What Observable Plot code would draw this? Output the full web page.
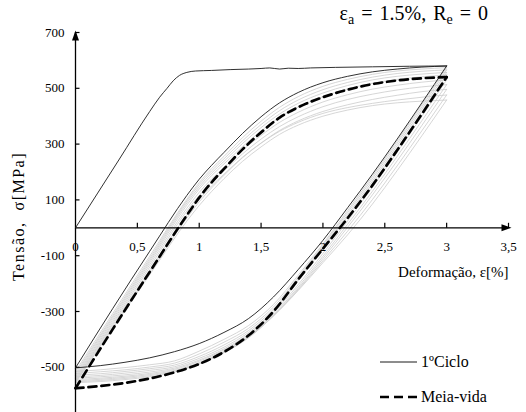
<!DOCTYPE html>
<html>
<head>
<meta charset="utf-8">
<script src="https://cdn.jsdelivr.net/npm/d3@7"></script>
<script src="https://cdn.jsdelivr.net/npm/@observablehq/plot@0.6"></script>
<style>
  body { margin: 0; background: #fff; }
  #wrap { position: relative; width: 526px; height: 412px; font-family: "Liberation Serif", "Times New Roman", serif; color: #000; }
  #title { position: absolute; right: 38px; top: 2px; font-size: 20px; word-spacing: 2px; white-space: nowrap; }
  #title sub { font-size: 0.7em; vertical-align: -0.3em; line-height: 0; word-spacing: 0; }
  .leg { position: absolute; left: 380px; height: 20px; display: flex; align-items: center; font-size: 16px; white-space: nowrap; }
  .leg svg { margin-right: 4px; }
</style>
</head>
<body>
<div id="wrap">
  <div id="chart"></div>
  <div id="title">ε<sub>a</sub> = 1.5%, R<sub>e</sub> = 0</div>
  <div class="leg" id="leg1"></div>
  <div class="leg" id="leg2"></div>
</div>
<script>
// ---------- data (strain in %, stress in MPa) ----------
const xTicks = [0, 0.5, 1, 1.5, 2, 2.5, 3, 3.5];
const xTickLabels = ["0", "0,5", "1", "1,5", "2", "2,5", "3", "3,5"];
const yTicks = [700, 500, 300, 100, -100, -300, -500];
const yTickLabels = ["700", "500", "300", "100", "-100", "-300", "-500"];
const yMin = -662, yMax = 700, xMin = 0, xMax = 3.5;

// first (monotonic) loading of cycle 1
const monoStrain = [0, 0.35, 0.6, 0.68, 0.74, 0.79, 0.84, 0.9, 0.97, 1.1, 1.25, 1.4, 1.5, 1.57, 1.65, 1.72, 1.8, 1.9, 2.1, 2.4, 2.7, 3.0];
const monoStress = [0, 243, 417, 468, 500, 527, 546, 557, 562, 564, 567, 569, 571, 573, 569, 572, 571, 573, 575, 577, 579, 580];

// strain grids of the reloading (upper) and unloading (lower) branches
const upperStrain = [0, 0.3, 0.6, 0.9, 1.0, 1.1, 1.2, 1.35, 1.5, 1.65, 1.8, 2.0, 2.2, 2.4, 2.6, 2.8, 3.0];
const lowerStrain = [0, 0.2, 0.4, 0.6, 0.8, 1.0, 1.2, 1.4, 1.6, 1.8, 2.0, 2.2, 2.4, 2.6, 2.8, 3.0];

// 1st cycle
const cycle1Upper = [-502, -290, -84, 116, 174, 224, 270, 338, 398, 448, 485, 520, 543, 559, 569, 576, 580];
const cycle1Lower = [-502, -494, -482, -466, -444, -415, -375, -325, -248, -150, -45, 72, 192, 318, 448, 580];

// half-life cycle
const halfUpper = [-575, -364, -158, 45, 108, 163, 211, 281, 342, 395, 432, 468, 495, 515, 528, 536, 540];
const halfLower = [-575, -567, -556, -540, -518, -488, -445, -385, -300, -185, -75, 35, 152, 278, 408, 540];

// intermediate cycles (grey)
const greyUpper = [
  [-515, -308, -102, 102, 162, 212, 256, 323, 382, 432, 470, 507, 532, 550, 562, 569, 574],
  [-522, -316, -110, 96, 155, 204, 247, 312, 370, 420, 458, 495, 521, 540, 553, 561, 566],
  [-528, -322, -117, 89, 147, 196, 238, 302, 359, 408, 446, 483, 510, 530, 543, 551, 557],
  [-534, -329, -124, 81, 139, 187, 229, 291, 347, 396, 433, 470, 498, 518, 532, 541, 548],
  [-539, -336, -132, 70, 127, 175, 216, 278, 331, 378, 414, 451, 477, 497, 511, 522, 530],
  [-544, -343, -141, 60, 116, 163, 204, 265, 318, 363, 398, 434, 460, 479, 494, 505, 513],
  [-548, -349, -151, 46, 102, 150, 192, 253, 304, 349, 383, 417, 441, 460, 475, 488, 496],
  [-552, -356, -160, 35, 93, 143, 188, 251, 303, 346, 378, 410, 431, 446, 458, 468, 476],
  [-555, -361, -168, 24, 80, 130, 176, 238, 290, 335, 368, 400, 422, 438, 448, 454, 458]
];
const greyLower = [
  [-515, -509, -501, -491, -477, -442, -400, -350, -275, -170, -58, 62, 184, 311, 442, 574],
  [-522, -516, -509, -499, -485, -452, -410, -360, -284, -177, -63, 55, 176, 303, 434, 566],
  [-528, -523, -515, -505, -492, -461, -420, -368, -292, -184, -69, 47, 167, 294, 425, 557],
  [-534, -529, -521, -511, -498, -468, -428, -375, -298, -190, -75, 40, 158, 285, 416, 548],
  [-539, -534, -527, -517, -503, -474, -434, -381, -304, -204, -92, 25, 145, 271, 400, 530],
  [-544, -539, -532, -522, -507, -478, -438, -386, -310, -212, -102, 13, 131, 256, 384, 513],
  [-548, -543, -536, -526, -511, -483, -443, -390, -314, -218, -110, 2, 118, 240, 367, 496],
  [-552, -547, -540, -530, -514, -486, -446, -392, -316, -222, -118, -12, 101, 222, 348, 476],
  [-555, -551, -544, -534, -517, -488, -448, -394, -316, -225, -125, -25, 85, 205, 330, 458]
];

const legendLabels = ["1ºCiclo", "Meia-vida"];
const xLabel = "Deformação, ε[%]";
const yLabel = "Tensão,  σ[MPa]";
const serif = "'Liberation Serif', 'Times New Roman', serif";

// ---------- build rows ----------
function rows(strain, stress, key) {
  return strain.map((e, i) => ({e, s: stress[i], key}));
}
const greyRows = [];
greyUpper.forEach((a, k) => greyRows.push(...rows(upperStrain, a, "u" + k)));
greyLower.forEach((a, k) => greyRows.push(...rows(lowerStrain, a, "l" + k)));
const cycle1Rows = [
  ...rows(monoStrain, monoStress, "mono"),
  ...rows(upperStrain, cycle1Upper, "up"),
  ...rows(lowerStrain, cycle1Lower, "down")
];
const halfRows = [
  ...rows(upperStrain, halfUpper, "up"),
  ...rows(lowerStrain, halfLower, "down")
];

// custom symbols for axis ticks and arrowheads
const tickUp = {draw(ctx) { ctx.moveTo(0, 0); ctx.lineTo(0, -5); }};
const tickRight = {draw(ctx) { ctx.moveTo(0, 0); ctx.lineTo(4, 0); }};
const arrowUp = {draw(ctx) { ctx.moveTo(0, -2); ctx.lineTo(3.5, 8); ctx.lineTo(-3.5, 8); ctx.closePath(); }};
const arrowRight = {draw(ctx) { ctx.moveTo(3, 0); ctx.lineTo(-7, -3.5); ctx.lineTo(-7, 3.5); ctx.closePath(); }};

const chart = Plot.plot({
  width: 526,
  height: 412,
  marginLeft: 75,
  marginRight: 18,
  marginTop: 32,
  marginBottom: 0,
  x: {domain: [xMin, xMax], axis: null},
  y: {domain: [yMin, yMax], axis: null},
  style: {fontFamily: serif, fontSize: "13px", color: "#000", background: "transparent", overflow: "visible"},
  marks: [
    Plot.line(greyRows, {x: "e", y: "s", z: "key", stroke: "#cbcbcb", strokeWidth: 0.8, curve: "monotone-x"}),
    Plot.ruleX([xMin], {y1: yMin, y2: yMax, stroke: "#000", strokeWidth: 1.3}),
    Plot.ruleY([0], {x1: xMin, x2: xMax, stroke: "#000", strokeWidth: 1.3}),
    Plot.dot(xTicks.slice(1), {x: d => d, y: () => 0, symbol: tickUp, fill: "none", stroke: "#000", strokeWidth: 1.2}),
    Plot.dot(yTicks, {x: () => xMin, y: d => d, symbol: tickRight, fill: "none", stroke: "#000", strokeWidth: 1.2}),
    Plot.dot([yMax], {x: () => xMin, y: d => d, symbol: arrowUp, fill: "#000", stroke: "none"}),
    Plot.dot([xMax], {x: d => d, y: () => 0, symbol: arrowRight, fill: "#000", stroke: "none"}),
    Plot.line(cycle1Rows, {x: "e", y: "s", z: "key", stroke: "#1a1a1a", strokeWidth: 0.9, curve: "monotone-x"}),
    Plot.line(halfRows, {x: "e", y: "s", z: "key", stroke: "#000", strokeWidth: 2.7, strokeDasharray: "8,5", curve: "monotone-x"}),
    Plot.text(xTicks, {x: d => d, y: () => 0, text: (d, i) => xTickLabels[i], dy: 19, fontSize: 13, fontFamily: serif}),
    Plot.text(yTicks, {x: () => xMin, y: d => d, text: (d, i) => yTickLabels[i], textAnchor: "end", dx: -11, fontSize: 13, fontFamily: serif}),
    Plot.text([xLabel], {frameAnchor: "right", text: d => d, textAnchor: "end", dy: 50, fontSize: 15, fontFamily: serif}),
    Plot.text([yLabel], {frameAnchor: "left", text: d => d, textAnchor: "middle", rotate: -90, dx: -57, dy: -6, fontSize: 16, fontFamily: serif})
  ]
});
document.getElementById("chart").appendChild(chart);
d3.select(chart).selectAll("text").filter(function() { return this.textContent === yLabel; }).attr("letter-spacing", "1.5px");

// legend
function swatch(dashed) {
  const ns = "http://www.w3.org/2000/svg";
  const s = document.createElementNS(ns, "svg");
  s.setAttribute("width", 37); s.setAttribute("height", 20);
  const l = document.createElementNS(ns, "line");
  l.setAttribute("x1", 0); l.setAttribute("x2", 37); l.setAttribute("y1", 10); l.setAttribute("y2", 10);
  l.setAttribute("stroke", "#000");
  l.setAttribute("stroke-width", dashed ? 2.7 : 0.9);
  if (dashed) l.setAttribute("stroke-dasharray", "9,5");
  s.appendChild(l);
  return s;
}
const leg1 = document.getElementById("leg1");
leg1.style.top = "352px";
leg1.appendChild(swatch(false));
leg1.appendChild(document.createTextNode(legendLabels[0]));
const leg2 = document.getElementById("leg2");
leg2.style.top = "387px";
leg2.appendChild(swatch(true));
leg2.appendChild(document.createTextNode(legendLabels[1]));
</script>
</body>
</html>
